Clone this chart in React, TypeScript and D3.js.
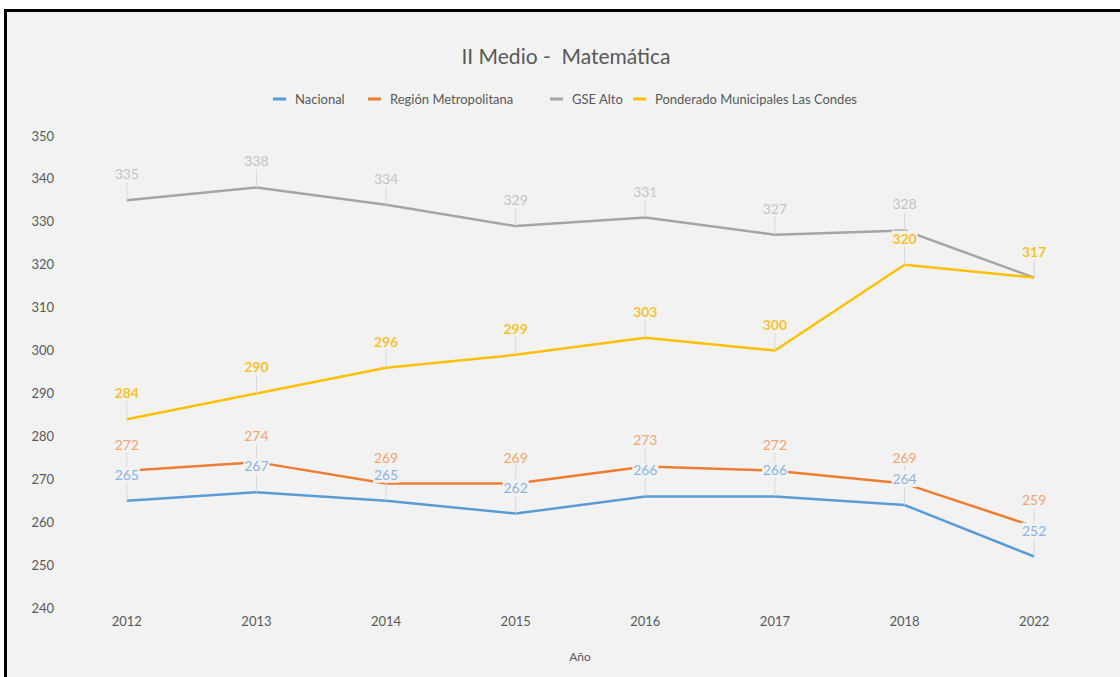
import React from "react";
import * as d3 from "d3";

const years = ["2012", "2013", "2014", "2015", "2016", "2017", "2018", "2022"];
const nacional = [265, 267, 265, 262, 266, 266, 264, 252];
const regionMetropolitana = [272, 274, 269, 269, 273, 272, 269, 259];
const gseAlto = [335, 338, 334, 329, 331, 327, 328, 317];
const ponderado = [284, 290, 296, 299, 303, 300, 320, 317];
const yTicks = [240, 250, 260, 270, 280, 290, 300, 310, 320, 330, 340, 350];

const seriesNames = ["Nacional", "Región Metropolitana", "GSE Alto", "Ponderado Municipales Las Condes"];
const seriesData = [nacional, regionMetropolitana, gseAlto, ponderado];
const lineColors = ["#5b9bd5", "#ed7d31", "#a5a5a5", "#ffc000"];
const labelColors = ["#8db3e2", "#f1a672", "#c4c4c4", "#f5c231"];

const W = 1120;
const H = 677;
const BG = "#f2f2f2";
const FONT = "Lato, 'Open Sans', sans-serif";

export default function App() {
  const x = d3.scaleBand<string>().domain(years).range([62, 1099]);
  const y = d3.scaleLinear().domain([240, 350]).range([608, 136]);
  const cx = (yr: string) => (x(yr) as number) + x.bandwidth() / 2;
  const line = d3
    .line<number>()
    .x((_, i) => cx(years[i]))
    .y((v) => y(v));

  const legendTextX = [295, 390, 572, 655];
  const labelDy = 26;

  return (
    <svg
      width={W}
      height={H}
      style={{ position: "absolute", left: 0, top: 0, display: "block" }}
      fontFamily={FONT}
    >
      <rect x={0} y={0} width={W} height={H} fill="#ffffff" />
      <rect x={5.5} y={10.5} width={W + 10} height={H + 10} fill={BG} stroke="#000" strokeWidth={3} />

      <text x={566} y={64} textAnchor="middle" fontSize={21} fill="#595959" style={{ whiteSpace: "pre" }}>
        {"II Medio -  Matemática"}
      </text>

      {seriesNames.map((n, i) => (
        <g key={n}>
          <line
            x1={legendTextX[i] - 22}
            x2={legendTextX[i] - 9}
            y1={99}
            y2={99}
            stroke={lineColors[i]}
            strokeWidth={3}
          />
          <text x={legendTextX[i]} y={103.5} fontSize={13} fill="#595959">
            {n}
          </text>
        </g>
      ))}

      {yTicks.map((t) => (
        <text key={t} x={54} y={y(t) + 4.5} textAnchor="end" fontSize={13} fill="#595959">
          {t}
        </text>
      ))}

      {years.map((yr) => (
        <text key={yr} x={cx(yr)} y={625.5} textAnchor="middle" fontSize={13} fill="#595959">
          {yr}
        </text>
      ))}
      <text x={580} y={661} textAnchor="middle" fontSize={12} fill="#595959">
        Año
      </text>

      {seriesData.map((d, i) => (
        <path key={i} d={line(d) || ""} fill="none" stroke={lineColors[i]} strokeWidth={2.5} strokeLinejoin="round" />
      ))}

      {seriesData.map((d, i) =>
        d.map((v, j) => (
          <line
            key={`l${i}-${j}`}
            x1={cx(years[j])}
            x2={cx(years[j])}
            y1={y(v) - labelDy + 7}
            y2={y(v)}
            stroke="#d9d9d9"
            strokeWidth={1}
          />
        ))
      )}

      {seriesData.map((d, i) =>
        d.map((v, j) => (
          <g key={`t${i}-${j}`}>
            <rect x={cx(years[j]) - 13} y={y(v) - labelDy - 8} width={26} height={16} fill={BG} />
            <text
              x={cx(years[j])}
              y={y(v) - labelDy + 5}
              textAnchor="middle"
              fontSize={14}
              fontWeight={i === 3 ? 700 : 400}
              fill={labelColors[i]}
            >
              {v}
            </text>
          </g>
        ))
      )}
    </svg>
  );
}
